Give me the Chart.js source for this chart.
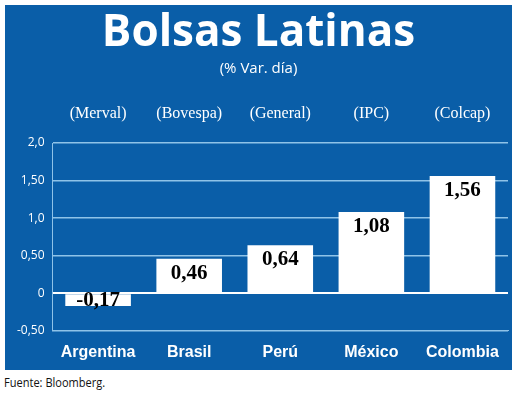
<!DOCTYPE html>
<html>
<head>
<meta charset="utf-8">
<script src="https://cdn.jsdelivr.net/npm/chart.js@4.4.0/dist/chart.umd.min.js"></script>
<style>
  body { margin: 0; background: #fff; width: 520px; height: 401px; overflow: hidden; }
  #panel { position: absolute; left: 5px; top: 5px; width: 507px; height: 365px; background: #0a5ea8; }
  #fuente { position: absolute; left: 4px; top: 373px; font: 13px "Open Sans", sans-serif; color: #111; transform: scaleX(0.85); transform-origin: left; }
</style>
</head>
<body>
<div id="panel"><canvas id="chart" width="507" height="365"></canvas></div>
<div id="fuente">Fuente: Bloomberg.</div>
<script>
// datos
const paises = ['Argentina', 'Brasil', 'Perú', 'México', 'Colombia'];
const indices = ['(Merval)', '(Bovespa)', '(General)', '(IPC)', '(Colcap)'];
const variacion = [-0.17, 0.46, 0.64, 1.08, 1.56];

const fmt = v => v === 0 ? '0' : v.toFixed(v % 1 === 0 ? 1 : 2).replace('.', ',');

// etiquetas de valor dentro de cada barra
const valorLabels = {
  id: 'valorLabels',
  afterDatasetsDraw(chart) {
    const ctx = chart.ctx;
    const meta = chart.getDatasetMeta(0);
    ctx.save();
    ctx.fillStyle = '#000';
    ctx.font = 'bold 21px "Liberation Serif", serif';
    ctx.textAlign = 'center';
    meta.data.forEach((bar, i) => {
      const v = variacion[i];
      let y = v < 0 ? (bar.y + bar.base) / 2 : bar.y + 4;
      ctx.textBaseline = v < 0 ? 'middle' : 'top';
      ctx.fillText(fmt(v), bar.x, y);
    });
    ctx.restore();
  }
};

new Chart(document.getElementById('chart'), {
  type: 'bar',
  data: {
    labels: paises,
    datasets: [{ data: variacion, backgroundColor: '#fff', barPercentage: 0.72, categoryPercentage: 1 }]
  },
  options: {
    responsive: false,
    animation: false,
    layout: { padding: { left: 4, right: 4, bottom: 4 } },
    plugins: {
      legend: { display: false },
      tooltip: { enabled: false },
      title: {
        display: true, text: 'Bolsas Latinas', color: '#fff',
        font: { family: 'Open Sans', size: 44, weight: 'bold' }, padding: { top: 2, bottom: 0 }
      },
      subtitle: {
        display: true, text: '(% Var. día)', color: '#fff',
        font: { family: 'Open Sans', size: 15 }, padding: { top: 0, bottom: 6 }
      }
    },
    scales: {
      x: {
        grid: { display: false },
        border: { color: '#8fc3e8' },
        ticks: { color: '#fff', font: { family: 'Liberation Sans Narrow, Liberation Sans', size: 16, weight: 'bold' }, padding: 4 }
      },
      x2: {
        position: 'top',
        labels: indices,
        grid: { display: false, drawTicks: false },
        border: { display: false },
        ticks: { color: '#fff', font: { family: 'Liberation Serif', size: 16 }, padding: 20 }
      },
      y: {
        min: -0.5, max: 2, 
        border: { color: '#8fc3e8' },
        grid: {
          color: ctx => ctx.tick.value === 0 ? '#fff' : '#8fc3e8',
          lineWidth: ctx => ctx.tick.value === 0 ? 2 : 1.5,
          drawTicks: false
        },
        ticks: { stepSize: 0.5, color: '#fff', padding: 8, font: { family: 'Open Sans', size: 12 }, callback: v => fmt(v) }
      }
    }
  },
  plugins: [valorLabels]
});
</script>
</body>
</html>
